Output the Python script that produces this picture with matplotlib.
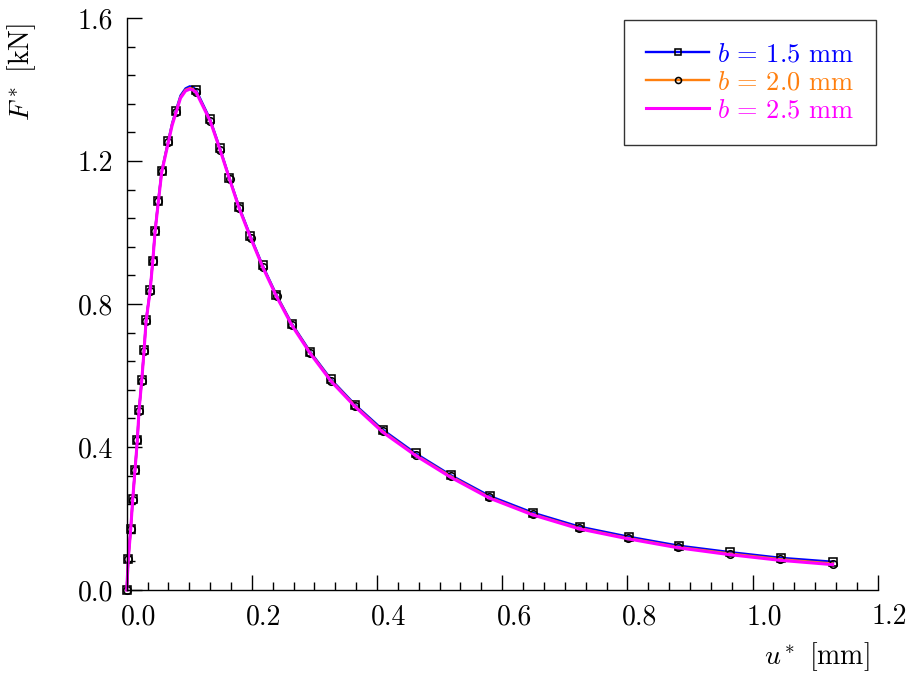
import matplotlib
matplotlib.use("Agg")
import matplotlib.pyplot as plt
import matplotlib.transforms as mtransforms
from matplotlib.ticker import MultipleLocator

# ---------------- data ----------------
# sampled points (markers) of each curve: displacement u* [mm], force F* [kN]
u_15 = [0, 0.0026, 0.0064, 0.0096, 0.0133, 0.0170, 0.0197, 0.0240, 0.0277, 0.0309,
        0.0373, 0.0416, 0.0453, 0.0505, 0.0560, 0.0665, 0.0784, 0.1108, 0.1332, 0.1492,
        0.1641, 0.1796, 0.1978, 0.2172, 0.2392, 0.2639, 0.2931, 0.3267, 0.3651, 0.4094,
        0.4618, 0.5181, 0.5799, 0.6493, 0.7238, 0.8022, 0.8821, 0.9637, 1.0448, 1.1288]
F_15 = [0, 0.088, 0.171, 0.254, 0.337, 0.420, 0.503, 0.587, 0.670, 0.754,
        0.838, 0.921, 1.005, 1.089, 1.173, 1.257, 1.340, 1.399, 1.317, 1.235,
        1.153, 1.072, 0.990, 0.908, 0.826, 0.745, 0.667, 0.589, 0.518, 0.448,
        0.382, 0.321, 0.263, 0.216, 0.177, 0.149, 0.124, 0.106, 0.090, 0.079]

u_20 = [0, 0.0026, 0.0064, 0.0096, 0.0133, 0.0170, 0.0197, 0.0240, 0.0277, 0.0309,
        0.0373, 0.0416, 0.0453, 0.0505, 0.0560, 0.0665, 0.0784, 0.1110, 0.1334, 0.1494,
        0.1643, 0.1798, 0.1980, 0.2174, 0.2394, 0.2641, 0.2933, 0.3268, 0.3652, 0.4094,
        0.4617, 0.5180, 0.5797, 0.6490, 0.7235, 0.8018, 0.8817, 0.9633, 1.0444, 1.1284]
F_20 = [0, 0.087, 0.170, 0.253, 0.336, 0.419, 0.502, 0.586, 0.669, 0.752,
        0.836, 0.919, 1.003, 1.087, 1.171, 1.254, 1.336, 1.394, 1.313, 1.231,
        1.150, 1.068, 0.986, 0.904, 0.823, 0.742, 0.664, 0.586, 0.515, 0.444,
        0.378, 0.318, 0.259, 0.212, 0.173, 0.145, 0.120, 0.102, 0.086, 0.074]

u_25 = [0, 0.0026, 0.0064, 0.0096, 0.0133, 0.0170, 0.0197, 0.0240, 0.0277, 0.0309,
        0.0373, 0.0416, 0.0453, 0.0505, 0.0560, 0.0665, 0.0784, 0.1112, 0.1336, 0.1496,
        0.1645, 0.1800, 0.1982, 0.2176, 0.2396, 0.2643, 0.2935, 0.3269, 0.3653, 0.4094,
        0.4616, 0.5179, 0.5795, 0.6488, 0.7232, 0.8015, 0.8813, 0.9630, 1.0440, 1.1280]
F_25 = [0, 0.087, 0.170, 0.253, 0.336, 0.419, 0.502, 0.585, 0.668, 0.751,
        0.835, 0.918, 1.001, 1.085, 1.169, 1.252, 1.333, 1.391, 1.311, 1.229,
        1.148, 1.066, 0.984, 0.902, 0.820, 0.739, 0.661, 0.583, 0.512, 0.441,
        0.376, 0.315, 0.257, 0.210, 0.171, 0.143, 0.118, 0.099, 0.083, 0.071]

# extra points read off the drawn curves around the rounded peak (no markers there)
u_peak_15 = [0.0725, 0.0860, 0.0940, 0.1010, 0.1065]
F_peak_15 = [1.305, 1.383, 1.403, 1.409, 1.406]
u_peak_20 = [0.0725, 0.0860, 0.0940, 0.1010, 0.1065]
F_peak_20 = [1.302, 1.379, 1.399, 1.404, 1.401]
u_peak_25 = [0.0725, 0.0860, 0.0940, 0.1010, 0.1065]
F_peak_25 = [1.299, 1.376, 1.396, 1.401, 1.398]

labels = ["$b\\,=\\,1.5$ mm", "$b\\,=\\,2.0$ mm", "$b\\,=\\,2.5$ mm"]
colors = ["#0000ff", "#ff7f0e", "#ff00ff"]
markers = ["s", "o", None]

x_ticks = [0.0, 0.2, 0.4, 0.6, 0.8, 1.0, 1.2]
x_tick_labels = ["0.0", "0.2", "0.4", "0.6", "0.8", "1.0", "1.2"]
y_ticks = [0.0, 0.4, 0.8, 1.2, 1.6]
y_tick_labels = ["0.0", "0.4", "0.8", "1.2", "1.6"]

# ---------------- style ----------------
plt.rcParams["font.family"] = "serif"
plt.rcParams["font.serif"] = ["cmr10"]
plt.rcParams["mathtext.fontset"] = "cm"
plt.rcParams["axes.unicode_minus"] = False

fig = plt.figure(figsize=(9.14, 6.79), dpi=100)
ax = fig.add_axes([126.7 / 914, 1 - 590 / 679, (877.7 - 126.7) / 914, (590 - 18) / 679])


def merged(u, F, up, Fp):
    pts = sorted(list(zip(u, F)) + list(zip(up, Fp)))
    mark_set = set(u)
    idx = [i for i, (a, _) in enumerate(pts) if a in mark_set]
    return [p[0] for p in pts], [p[1] for p in pts], idx


series = [(u_15, F_15, u_peak_15, F_peak_15),
          (u_20, F_20, u_peak_20, F_peak_20),
          (u_25, F_25, u_peak_25, F_peak_25)]
lws = [1.7, 1.7, 2.2]
msizes = [5.2, 5.4, 0]

for (u, F, up, Fp), lab, col, mk, lw, ms in zip(series, labels, colors, markers, lws, msizes):
    uu, FF, idx = merged(u, F, up, Fp)
    if mk:
        ax.plot(uu, FF, color=col, lw=lw, marker=mk, markevery=idx, ms=ms,
                mfc="none", mec="black", mew=1.15, label=lab, clip_on=False)
    else:
        ax.plot(uu, FF, color=col, lw=lw, label=lab, clip_on=False)

ax.set_xlim(0, 1.2)
ax.set_ylim(0, 1.6)

for s in ["top", "right"]:
    ax.spines[s].set_visible(False)
for s in ["left", "bottom"]:
    ax.spines[s].set_linewidth(1.0)

ax.set_xticks(x_ticks)
ax.set_xticklabels(x_tick_labels)
ax.set_yticks(y_ticks)
ax.set_yticklabels(y_tick_labels)
ax.xaxis.set_minor_locator(MultipleLocator(0.2 / 6))
ax.yaxis.set_minor_locator(MultipleLocator(0.08))
ax.tick_params(which="both", direction="in", top=False, right=False, width=1.0)
ax.tick_params(which="major", length=11, labelsize=20)
ax.tick_params(which="minor", length=6)
ax.tick_params(axis="y", which="major", pad=10)
ax.tick_params(axis="x", which="major", pad=10)

# x tick labels sit a little to the right of their ticks in the reference
off = mtransforms.ScaledTranslation(12 / 100, 0, fig.dpi_scale_trans)
for t in ax.get_xticklabels():
    t.set_transform(t.get_transform() + off)

fig.text(817 / 914, 1 - 657 / 679, "$u^*$ [mm]", fontsize=20, ha="center", va="center")
fig.text(22 / 914, 1 - 72 / 679, "$F^*$ [kN]", fontsize=20, ha="center", va="center",
         rotation=90)

leg = ax.legend(loc="upper right", bbox_to_anchor=(876 / 914, 1 - 20 / 679),
                bbox_transform=fig.transFigure, fontsize=19, frameon=True,
                fancybox=False, framealpha=1, edgecolor="#333333",
                handlelength=2.4, handletextpad=0.28, labelspacing=0.16,
                borderpad=0.85, borderaxespad=0, labelcolor="linecolor",
                markerscale=0.8)
leg.get_frame().set_linewidth(1.0)

fig.savefig("out.png", dpi=100)
